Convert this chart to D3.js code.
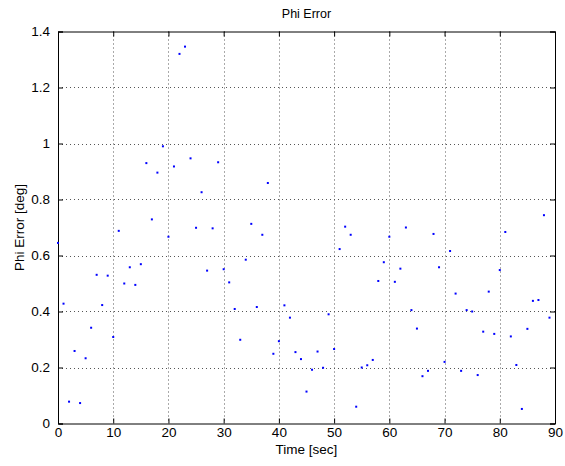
<!DOCTYPE html>
<html><head><meta charset="utf-8">
<script src="https://cdn.jsdelivr.net/npm/d3@7"></script>
<style>body{margin:0;background:#fff}svg{display:block}text{font-family:"Liberation Sans",Arial,sans-serif;}</style>
</head><body><svg id="c" width="565" height="466"></svg>
<script>
const times = d3.range(0, 90);
const phiError = [0.645,0.428,0.078,0.259,0.073,0.233,0.342,0.531,0.423,0.528,
0.309,0.688,0.500,0.558,0.495,0.569,0.930,0.729,0.896,0.990,
0.667,0.918,1.320,1.346,0.947,0.699,0.826,0.546,0.697,0.933,
0.551,0.504,0.409,0.299,0.585,0.713,0.416,0.674,0.859,0.249,
0.294,0.422,0.378,0.255,0.230,0.114,0.192,0.257,0.199,0.390,
0.266,0.623,0.703,0.674,0.060,0.200,0.208,0.227,0.509,0.576,
0.667,0.506,0.553,0.700,0.405,0.339,0.169,0.188,0.677,0.558,
0.220,0.616,0.464,0.188,0.405,0.400,0.173,0.328,0.471,0.320,
0.548,0.684,0.311,0.209,0.052,0.338,0.438,0.441,0.744,0.378];
const xTicks = [0,10,20,30,40,50,60,70,80,90];
const yTicks = [0,0.2,0.4,0.6,0.8,1,1.2,1.4];
const title = "Phi Error", xLabel = "Time [sec]", yLabel = "Phi Error [deg]";

const svg = d3.select("#c");
const L=58, R=555, T=31.5, B=423.5;
const x = d3.scaleLinear().domain([0,90]).range([L,R]);
const y = d3.scaleLinear().domain([0,1.4]).range([B,T]);

// grid
const g = svg.append("g");
g.selectAll(".vg").data(xTicks.slice(1,-1)).join("line")
  .attr("x1",d=>Math.round(x(d))+0.5).attr("x2",d=>Math.round(x(d))+0.5)
  .attr("y1",T).attr("y2",B).attr("stroke","#555").attr("stroke-width",1).attr("stroke-dasharray","1,3");
g.selectAll(".hg").data(yTicks.slice(1,-1)).join("line")
  .attr("y1",d=>Math.round(y(d))+0.5).attr("y2",d=>Math.round(y(d))+0.5)
  .attr("x1",L).attr("x2",R).attr("stroke","#555").attr("stroke-width",1).attr("stroke-dasharray","1,3");

// axes
const fmt = d=>d3.format("")(+d.toFixed(1));
const axB = svg.append("g").attr("transform",`translate(0,${B})`)
  .call(d3.axisBottom(x).tickValues(xTicks).tickSize(-5).tickPadding(4).tickFormat(d3.format("d")));
const axT = svg.append("g").attr("transform",`translate(0,${T})`)
  .call(d3.axisTop(x).tickValues(xTicks).tickSize(-5).tickFormat(""));
const axL = svg.append("g").attr("transform",`translate(${L},0)`)
  .call(d3.axisLeft(y).tickValues(yTicks).tickSize(-5).tickPadding(8).tickFormat(fmt));
const axR = svg.append("g").attr("transform",`translate(${R},0)`)
  .call(d3.axisRight(y).tickValues(yTicks).tickSize(-5).tickFormat(""));
[axB,axT,axL,axR].forEach(a=>{
  a.select(".domain").attr("stroke","#000").attr("stroke-width",1);
  a.selectAll(".tick line").attr("stroke","#000");
  a.selectAll("text").attr("font-size",13.5).attr("fill","#000")
   .style("font-family","'Liberation Sans',Arial,sans-serif");
});

// points
svg.append("g").selectAll("rect").data(times).join("rect")
  .attr("x",(d,i)=>x(d)-1).attr("y",(d,i)=>y(phiError[i])-1)
  .attr("width",2).attr("height",2).attr("fill","#0000ff");

// labels
svg.append("text").attr("x",(L+R)/2).attr("y",18).attr("text-anchor","middle")
  .attr("font-size",12.5).text(title);
svg.append("text").attr("x",(L+R)/2).attr("y",454).attr("text-anchor","middle")
  .attr("font-size",13.5).text(xLabel);
svg.append("text").attr("transform",`translate(24,${(T+B)/2}) rotate(-90)`)
  .attr("text-anchor","middle").attr("font-size",13.5).text(yLabel);
</script></body></html>
